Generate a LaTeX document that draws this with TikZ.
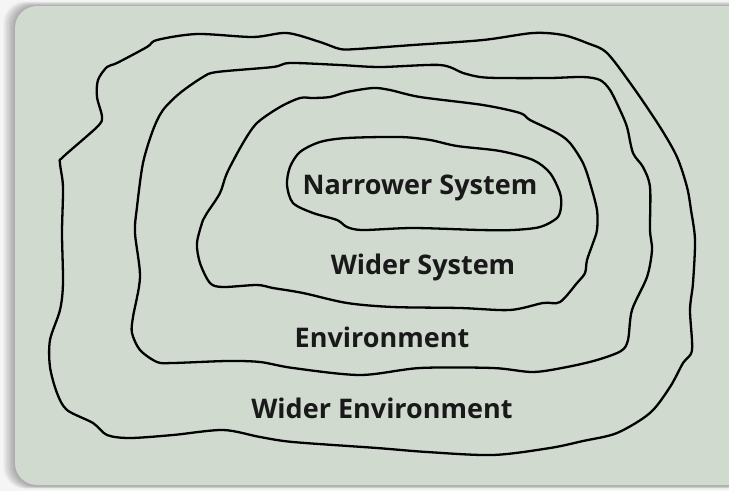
\documentclass[tikz,border=0pt]{standalone}
\usepackage{fontspec}
\IfFontExistsTF{Open Sans SemiBold}{\newfontfamily\labfont{Open Sans SemiBold}}{\newfontfamily\labfont{Open Sans}[UprightFont=*-Bold]}
\definecolor{panel}{HTML}{D0DACF}
\tikzset{
  contour/.style={draw=black, line width=2.3pt, line join=round},
  lab/.style={font=\labfont\fontsize{27}{27}\selectfont, text=black!90, inner sep=0pt}
}
\begin{document}
\begin{tikzpicture}[x=1pt,y=-1pt]
\useasboundingbox (0,0) rectangle (729,491);
\fill[white!96!black] (0,0) rectangle (729,491);
% soft shadow round the panel
\foreach \i in {1,...,9}{
  \fill[black, opacity=0.035, rounded corners=22pt]
    ({15-1.3*\i},{6-0.5*\i}) rectangle (760,{486+0.3*\i});
}
% panel
\fill[panel, rounded corners=22pt] (15,6) rectangle (760,485);

% Wider Environment contour
\draw[contour] plot[smooth cycle, tension=0.5] coordinates {
 (98,80) (107,67) (117,63) (147,47) (157,40) (197,34) (253,37) (287,33)
 (320,42) (340,49) (357,49) (413,45) (483,40) (533,33) (563,35) (587,43)
 (607,53) (633,87) (660,127) (677,157) (687,187) (691,210) (695,240)
 (693,283) (690,310) (692,350) (683,363) (670,387) (650,413) (617,433)
 (583,441) (550,448) (493,455) (427,452) (377,448) (293,442) (260,437)
 (223,430) (173,435) (130,438) (107,435) (93,423) (67,410) (57,393)
 (50,367) (50,340) (60,310) (63,283) (62,233) (63,187) (60,163) (63,157)
 (97,127) (102,117) (97,97)};

% Environment contour
\draw[contour] plot[smooth cycle, tension=0.5] coordinates {
 (153,130) (163,110) (180,93) (203,77) (217,72) (273,67) (290,63) (340,65)
 (380,67) (440,65) (463,73) (480,77) (500,78) (550,78) (583,77) (600,80)
 (610,90) (620,110) (627,127) (633,153) (643,167) (650,187) (650,230)
 (652,250) (647,277) (632,310) (628,340) (621,351) (597,360) (567,367)
 (533,372) (493,368) (420,368) (360,375) (293,368) (260,362) (227,361)
 (173,363) (157,362) (140,350) (132,333) (133,317) (140,277) (135,233)
 (137,207) (143,163)};

% Wider System contour
\draw[contour] plot[smooth cycle, tension=0.5] coordinates {
 (220,193) (227,173) (243,143) (257,123) (280,107) (300,98) (313,98)
 (330,97) (347,92) (373,88) (390,90) (420,97) (483,105) (520,113)
 (530,120) (557,133) (570,143) (583,163) (590,183) (597,210) (597,230)
 (593,243) (587,260) (585,273) (577,283) (560,302) (543,303) (510,310)
 (460,308) (393,307) (347,303) (303,293) (273,288) (257,285) (223,287)
 (210,283) (200,263) (197,243) (203,220) (207,213)};

% Narrower System contour
\draw[contour] plot[smooth cycle, tension=0.5] coordinates {
 (300,152) (320,142) (347,138) (400,137) (430,140) (457,146) (500,151)
 (533,160) (550,173) (560,193) (561,207) (557,218) (540,227) (513,230)
 (480,230) (413,228) (363,230) (347,227) (337,220) (313,213) (293,203)
 (287,185) (290,167)};

% labels
\node[lab] (narrow) at (420,188) {Narrower System};
\node[lab] (widersys) at (423,267) {Wider System};
\node[lab] (env) at (382,337) {Environment};
\node[lab] (widerenv) at (382,408) {Wider Environment};
\end{tikzpicture}
\end{document}
